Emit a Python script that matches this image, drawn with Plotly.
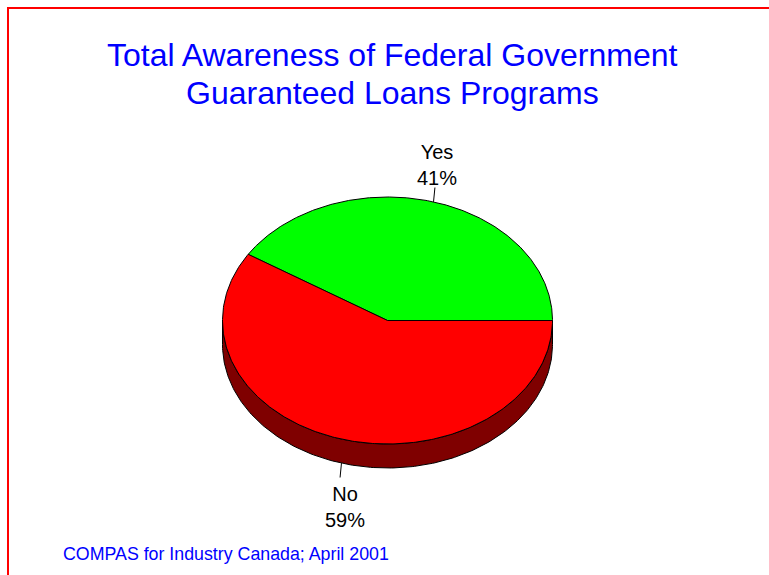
import numpy as np
import plotly.graph_objects as go

# Survey result
labels = ["Yes", "No"]
percents = [41, 59]
top_colors = ["#00FF00", "#FF0000"]
side_colors = ["#007F00", "#7F0000"]

title_lines = ["Total Awareness of Federal Government", "Guaranteed Loans Programs"]
source_note = "COMPAS for Industry Canada; April 2001"

W, H = 769, 575
# Pie geometry (pixel space): centre, radii of the tilted disc, thickness
CX, CY = 387.5, 320.5
RX, RY = 165.0, 123.5
DEPTH = 24.0

fig = go.Figure()


def edge(theta_deg, drop=0.0):
    t = np.radians(theta_deg)
    return CX + RX * np.cos(t), CY - RY * np.sin(t) + drop


total = float(sum(percents))
starts, ends = [], []
acc = 0.0
for p in percents:
    starts.append(acc / total * 360.0)
    acc += p
    ends.append(acc / total * 360.0)

# Side walls: only the front half (180..360 deg) is visible
for i in range(len(percents)):
    a0, a1 = max(starts[i], 180.0), min(ends[i], 360.0)
    if a1 <= a0:
        continue
    th = np.linspace(a0, a1, 200)
    xt, yt = edge(th)
    xb, yb = edge(th[::-1], DEPTH)
    fig.add_trace(go.Scatter(
        x=np.concatenate([xt, xb, xt[:1]]),
        y=np.concatenate([yt, yb, yt[:1]]),
        mode="lines", fill="toself", fillcolor=side_colors[i],
        line=dict(color="black", width=1), hoverinfo="skip", showlegend=False))

# Top faces of the slices
for i in range(len(percents)):
    th = np.linspace(starts[i], ends[i], 300)
    xe, ye = edge(th)
    fig.add_trace(go.Scatter(
        x=np.concatenate([[CX], xe, [CX]]),
        y=np.concatenate([[CY], ye, [CY]]),
        mode="lines", fill="toself", fillcolor=top_colors[i],
        line=dict(color="black", width=1), hoverinfo="skip", showlegend=False))

# Leader lines and labels at each slice's mid angle
for i, lab in enumerate(labels):
    mid = (starts[i] + ends[i]) / 2.0
    front = 180.0 < mid < 360.0
    drop = DEPTH if front else 0.0
    t = np.radians(mid)
    x0, y0 = edge(mid, drop)
    x1 = CX + (RX + 5) * np.cos(t)
    y1 = CY - (RY + 15) * np.sin(t) + drop
    fig.add_trace(go.Scatter(x=[x0, x1], y=[y0, y1], mode="lines",
                             line=dict(color="black", width=1),
                             hoverinfo="skip", showlegend=False))
    txt = f"{lab}<br>{percents[i]}%"
    fig.add_annotation(x=x1 + (2 if not front else 5), y=y1 + (3 if not front else 3),
                       text=txt, showarrow=False,
                       xanchor="center", yanchor="bottom" if not front else "top",
                       font=dict(family="Liberation Sans, Arial", size=20, color="black"))

# Title, one annotation per line
for k, (line_txt, ymid) in enumerate(zip(title_lines, [55, 93])):
    fig.add_annotation(x=392, y=ymid, text=line_txt, showarrow=False,
                       xanchor="center", yanchor="middle",
                       font=dict(family="Liberation Sans, Arial", size=32, color="#0000FF"))

# Source note
fig.add_annotation(x=61, y=554, text=source_note, showarrow=False,
                   xanchor="left", yanchor="middle",
                   font=dict(family="Liberation Sans, Arial", size=17.8, color="#0000FF"))

# Red frame running off the right and bottom edges
fig.add_shape(type="rect", x0=8, y0=8, x1=W + 10, y1=H + 10,
              line=dict(color="#FF0000", width=2), layer="above")

fig.update_xaxes(range=[0, W], visible=False, fixedrange=True)
fig.update_yaxes(range=[H, 0], visible=False, fixedrange=True)
fig.update_layout(width=W, height=H, margin=dict(l=0, r=0, t=0, b=0),
                  paper_bgcolor="white", plot_bgcolor="white", showlegend=False)

fig.write_html("out.html")
